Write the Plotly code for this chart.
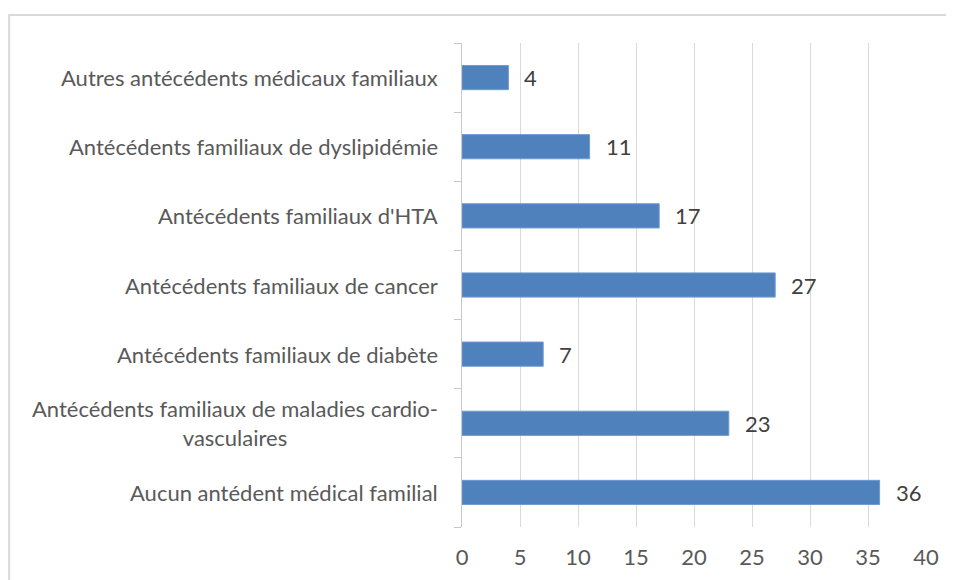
import plotly.graph_objects as go

# catégories de bas en haut (ordre de l'axe plotly)
categories = [
    "Aucun antédent médical familial",
    "Antécédents familiaux de maladies cardio-<br>vasculaires",
    "Antécédents familiaux de diabète",
    "Antécédents familiaux de cancer",
    "Antécédents familiaux d'HTA",
    "Antécédents familiaux de dyslipidémie",
    "Autres antécédents médicaux familiaux",
]
values = [36, 23, 7, 27, 17, 11, 4]
x_ticks = [0, 5, 10, 15, 20, 25, 30, 35, 40]

FONT = "Lato"
SIZE = 22
GREY = "#595959"

fig = go.Figure()
fig.add_trace(go.Bar(
    x=values, y=categories, orientation="h",
    marker=dict(color="#4F81BD", line=dict(color="#6f9bd1", width=1)),
    width=0.35,
    hoverinfo="x+y",
))

annots = []
# étiquettes de catégories (centrées par ligne comme dans Excel)
for c in categories:
    annots.append(dict(x=0, y=c, xref="paper", yref="y", text=c,
                       xanchor="right", yanchor="middle", align="center",
                       xshift=-22, showarrow=False,
                       font=dict(family=FONT, size=SIZE, color=GREY)))
# valeurs à droite des barres
for c, v in zip(categories, values):
    annots.append(dict(x=v, y=c, xref="x", yref="y", text=str(v),
                       xanchor="left", yanchor="middle", xshift=14,
                       showarrow=False,
                       font=dict(family=FONT, size=SIZE, color="#404040")))

# la page html a une marge de 8px : on décale les marges d'autant
fig.update_layout(
    width=954, height=580,
    margin=dict(l=454, r=36, t=35, b=61),
    paper_bgcolor="white", plot_bgcolor="white",
    showlegend=False,
    annotations=annots,
    font=dict(family=FONT, size=SIZE, color=GREY),
    shapes=[dict(type="rect", xref="paper", yref="paper",
                 x0=-0.976, x1=1.3, y0=-0.3, y1=1.058,
                 line=dict(color="#d9d9d9", width=2), layer="below")],
)
fig.update_xaxes(range=[0, 40], tickvals=x_ticks, showgrid=True,
                 gridcolor="#d9d9d9", gridwidth=1, zeroline=False,
                 showline=False, ticks="", ticklabelstandoff=15,
                 tickfont=dict(family=FONT, size=SIZE, color=GREY))
fig.update_yaxes(showticklabels=False, showline=True, linecolor="#c8c8c8",
                 ticks="outside", tickson="boundaries", ticklen=7,
                 tickcolor="#c8c8c8", showgrid=False)

fig.write_html("out.html")
